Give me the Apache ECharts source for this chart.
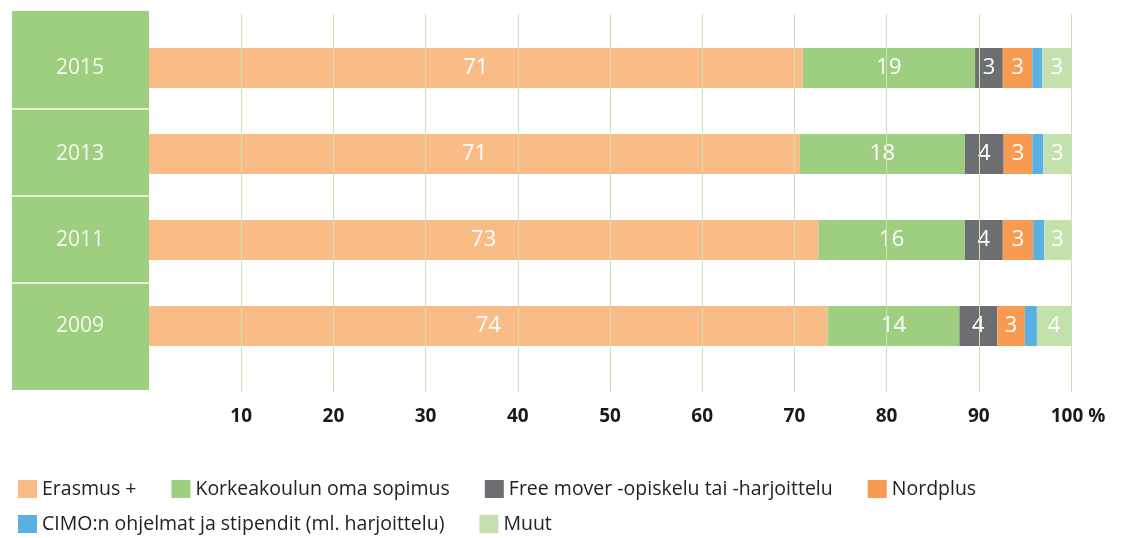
<!DOCTYPE html>
<html>
<head>
<meta charset="utf-8">
<script src="https://cdn.jsdelivr.net/npm/echarts@6/dist/echarts.min.js"></script>
<style>
  html, body { margin: 0; padding: 0; background: #fff; }
  #chart { width: 1122px; height: 538px; }
</style>
</head>
<body>
<div id="chart"></div>
<script>
// years, top to bottom
const years = ["2015", "2013", "2011", "2009"];

// shares (%) per programme
const erasmus = [70.9, 70.6, 72.6, 73.6];
const korkeakoulu = [18.7, 17.9, 15.9, 14.3];
const freeMover = [3.0, 4.2, 4.1, 4.1];
const nordplus = [3.2, 3.1, 3.3, 3.0];
const cimo = [1.1, 1.2, 1.2, 1.3];
const muut = [3.1, 3.2, 3.0, 3.7];

const seriesNames = [
  "Erasmus +",
  "Korkeakoulun oma sopimus",
  "Free mover -opiskelu tai -harjoittelu",
  "Nordplus",
  "CIMO:n ohjelmat ja stipendit (ml. harjoittelu)",
  "Muut",
];
const tickValues = [10, 20, 30, 40, 50, 60, 70, 80, 90, 100];

const colors = ["#f9bc87", "#9ecf80", "#6d6e71", "#f79b52", "#58b0e3", "#c4e0ad"];
const font = "Open Sans";

const chart = echarts.init(document.getElementById("chart"));

const makeBar = (idx, data, showLabel) => ({
  name: seriesNames[idx],
  type: "bar",
  stack: "total",
  xAxisIndex: 0,
  yAxisIndex: 0,
  barWidth: 40,
  itemStyle: { color: colors[idx] },
  label: {
    show: showLabel,
    position: "inside",
    color: "#ffffff",
    fontFamily: font,
    fontSize: 22,
    formatter: (p) => Math.round(p.value),
  },
  data: data,
});

const legendText = { fontFamily: font, fontSize: 19.5, color: "#222" };

const option = {
  animation: false,
  color: colors,
  grid: [
    // bars
    { left: 149, width: 922, top: 25, height: 344 },
    // value axis with grid lines
    { left: 149, width: 922, top: 14, height: 378 },
    // green year column
    { left: 12, width: 137, top: 11, height: 379, show: true, backgroundColor: "#9ecf80", borderWidth: 0 },
    // white separators in the year column
    { left: 12, width: 137, top: 22, height: 348 },
  ],
  xAxis: [
    { gridIndex: 0, type: "value", min: 0, max: 100, show: false },
    {
      gridIndex: 1,
      type: "value",
      min: 0,
      max: 100,
      interval: 10,
      z: 5,
      axisLine: { show: false },
      axisTick: { show: false },
      splitLine: {
        show: true,
        lineStyle: {
          color: ["transparent"].concat(tickValues.map(() => "#c8e4b4")),
          width: 1,
        },
      },
      axisLabel: {
        margin: 15,
        fontFamily: font,
        fontSize: 19,
        fontWeight: "bold",
        color: "#1a1a1a",
        formatter: (v) => {
          if (!tickValues.includes(v)) return "";
          return v === 100 ? "{p|100 %}" : String(v);
        },
        rich: {
          p: {
            fontFamily: font,
            fontSize: 19,
            fontWeight: "bold",
            color: "#1a1a1a",
            padding: [0, 0, 0, 14],
          },
        },
      },
    },
    { gridIndex: 2, type: "value", show: false },
    { gridIndex: 3, type: "value", show: false },
  ],
  yAxis: [
    {
      gridIndex: 0,
      type: "category",
      inverse: true,
      data: years,
      z: 10,
      axisLine: { show: false },
      axisTick: { show: false },
      axisLabel: {
        align: "center",
        margin: 69,
        color: "#f3f9ee",
        fontFamily: font,
        fontSize: 21,
      },
    },
    { gridIndex: 1, type: "value", show: false },
    { gridIndex: 2, type: "value", show: false },
    {
      gridIndex: 3,
      type: "category",
      data: years,
      z: 3,
      axisLine: { show: false },
      axisTick: { show: false },
      axisLabel: { show: false },
      splitLine: {
        show: true,
        showMinLine: false,
        showMaxLine: false,
        lineStyle: { color: "#e4f1da", width: 2 },
      },
    },
  ],
  legend: [
    {
      data: seriesNames.slice(0, 4),
      left: 13,
      top: 474,
      icon: "rect",
      itemWidth: 19,
      itemHeight: 18,
      itemGap: 35,
      selectedMode: false,
      textStyle: legendText,
    },
    {
      data: seriesNames.slice(4),
      left: 13,
      top: 509,
      icon: "rect",
      itemWidth: 19,
      itemHeight: 18,
      itemGap: 35,
      selectedMode: false,
      textStyle: legendText,
    },
  ],
  series: [
    makeBar(0, erasmus, true),
    makeBar(1, korkeakoulu, true),
    makeBar(2, freeMover, true),
    makeBar(3, nordplus, true),
    makeBar(4, cimo, false),
    makeBar(5, muut, true),
  ],
};

chart.setOption(option);
</script>
</body>
</html>
